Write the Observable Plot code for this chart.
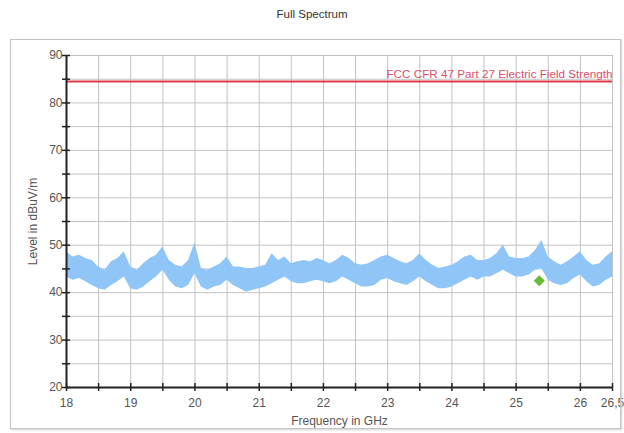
<!DOCTYPE html>
<html><head><meta charset="utf-8">
<script src="https://cdn.jsdelivr.net/npm/d3@7"></script>
<script src="https://cdn.jsdelivr.net/npm/@observablehq/plot@0.6"></script>
<style>
body{margin:0;background:#fff;font-family:Arial,"Liberation Sans",sans-serif}
#wrap{position:relative;width:624px;height:433px;overflow:hidden}
#title{position:absolute;top:8px;left:0;width:624px;text-align:center;font-size:11.5px;color:#333}
#frame{position:absolute;left:10px;top:39px;width:609px;height:388px;border:1px solid #c4c4c4;box-shadow:1px 1px 2px #d0d0d0;pointer-events:none}
#chart{position:absolute;left:0;top:0}
</style></head><body>
<div id="wrap"><div id="title">Full Spectrum</div><div id="chart"></div><div id="frame"></div></div>
<script>
const freq = [18.0,18.1,18.2,18.3,18.4,18.5,18.6,18.7,18.8,18.9,
  19.0,19.1,19.2,19.3,19.4,19.5,19.6,19.7,19.8,19.9,
  20.0,20.1,20.2,20.3,20.4,20.5,20.6,20.7,20.8,20.9,
  21.0,21.1,21.2,21.3,21.4,21.5,21.6,21.7,21.8,21.9,
  22.0,22.1,22.2,22.3,22.4,22.5,22.6,22.7,22.8,22.9,
  23.0,23.1,23.2,23.3,23.4,23.5,23.6,23.7,23.8,23.9,
  24.0,24.1,24.2,24.3,24.4,24.5,24.6,24.7,24.8,24.9,
  25.0,25.1,25.2,25.3,25.4,25.5,25.6,25.7,25.8,25.9,
  26.0,26.1,26.2,26.3,26.4,26.5];
const upper = [48.6,47.5,47.9,47.2,46.8,45.4,44.7,46.5,47.2,48.6,
  45.4,44.7,46.1,47.2,47.9,49.6,46.8,45.8,45.4,46.8,
  50.5,45.1,44.7,45.4,46.1,47.5,45.4,45.4,45.1,45.1,
  45.4,45.8,48.2,46.8,47.5,46.1,46.5,46.8,46.5,47.2,
  46.8,46.1,46.8,47.9,47.2,46.1,45.8,46.1,46.8,47.5,
  47.9,47.2,46.5,46.1,46.8,48.2,46.8,45.8,45.1,45.4,
  45.8,46.5,47.5,47.9,46.8,46.8,47.2,48.2,50.0,47.5,
  47.2,47.2,47.5,48.9,51.0,47.5,46.5,45.8,46.5,47.5,
  48.6,46.8,45.8,46.1,47.5,48.6];
const lower = [43.3,42.6,43.0,42.3,41.5,40.8,40.5,41.5,42.3,43.3,
  40.8,40.5,41.2,42.3,43.3,44.7,42.6,41.2,40.8,41.5,
  44.0,41.2,40.5,41.2,41.5,42.6,41.5,40.8,40.1,40.5,
  40.8,41.2,41.9,42.6,43.3,42.3,41.9,41.9,42.3,42.6,
  42.3,41.9,42.3,43.3,42.6,41.9,41.2,41.2,41.5,42.6,
  43.0,42.3,41.9,41.5,42.3,43.3,42.3,41.5,40.8,40.8,
  41.2,41.9,42.6,43.3,42.6,43.3,43.3,44.0,44.7,44.0,
  43.3,43.3,43.7,44.7,45.1,42.6,41.9,41.5,41.9,43.0,
  43.7,42.3,41.2,41.5,42.6,43.3];
const limitLevel = [84.5];
const limitLabel = ["FCC CFR 47 Part 27 Electric Field Strength"];
const markerFreq = [25.36];
const markerLevel = [42.5];
const xTickVals = [18,18.5,19,19.5,20,20.5,21,21.5,22,22.5,23,23.5,24,24.5,25,25.5,26,26.5];
const xLabelVals = [18,19,20,21,22,23,24,25,26,26.5];
const yTickVals = [20,25,30,35,40,45,50,55,60,65,70,75,80,85,90];
const yLabelVals = [20,30,40,50,60,70,80,90];
const xTitle = "Frequency in GHz";
const yTitle = "Level in dBuV/m";

const spectrum = freq.map((f, i) => ({f, lo: lower[i], hi: upper[i]}));
const markers = markerFreq.map((f, i) => ({f, v: markerLevel[i]}));

const chart = Plot.plot({
  width: 624, height: 433,
  marginLeft: 66, marginRight: 12, marginTop: 55, marginBottom: 46,
  x: {domain: [18, 26.5]},
  y: {domain: [20, 90]},
  style: {fontFamily: 'Arial, "Liberation Sans", sans-serif', fontSize: "12px", color: "#555", background: "transparent"},
  marks: [
    Plot.ruleX(xTickVals.slice(1), {stroke: "#c2c2c2", strokeWidth: 1}),
    Plot.ruleY(yTickVals.slice(1), {stroke: "#c2c2c2", strokeWidth: 1}),
    Plot.areaY(spectrum, {x: "f", y1: "lo", y2: "hi", fill: "#8fc6f7"}),
    Plot.ruleY(limitLevel, {stroke: "#e3384b", strokeWidth: 2}),
    Plot.text(limitLabel, {x: 26.5, y: limitLevel[0], text: d => d, textAnchor: "end", dy: -7, fill: "#d9506c", fontSize: 11.7}),
    Plot.dot(markers, {x: "f", y: "v", symbol: "diamond2", r: 5, fill: "#66bb33", stroke: "none"}),
    Plot.ruleX([18], {stroke: "#222", strokeWidth: 2}),
    Plot.ruleY([20], {stroke: "#222", strokeWidth: 2}),
    Plot.ruleY(yTickVals, {x1: 18, x2: 18, insetLeft: -4, insetRight: -4, stroke: "#222", strokeWidth: 1.5}),
    Plot.ruleX(xTickVals, {y1: 20, y2: 20, insetTop: -4, insetBottom: -4, stroke: "#222", strokeWidth: 1.5}),
    Plot.axisY(yLabelVals, {tickSize: 0, tickPadding: 4, label: null, fill: "#555", fontSize: 12}),
    Plot.axisX(xLabelVals, {tickSize: 0, tickPadding: 11, label: null, fill: "#555", fontSize: 12, tickFormat: d => String(d).replace(".", ",")}),
    Plot.text([yTitle], {frameAnchor: "left", textAnchor: "middle", dx: -33, rotate: -90, text: d => d, fill: "#555", fontSize: 12}),
    Plot.text([xTitle], {frameAnchor: "bottom", textAnchor: "middle", dy: 37, text: d => d, fill: "#555", fontSize: 12})
  ]
});
document.getElementById("chart").appendChild(chart);
</script>
</body></html>
